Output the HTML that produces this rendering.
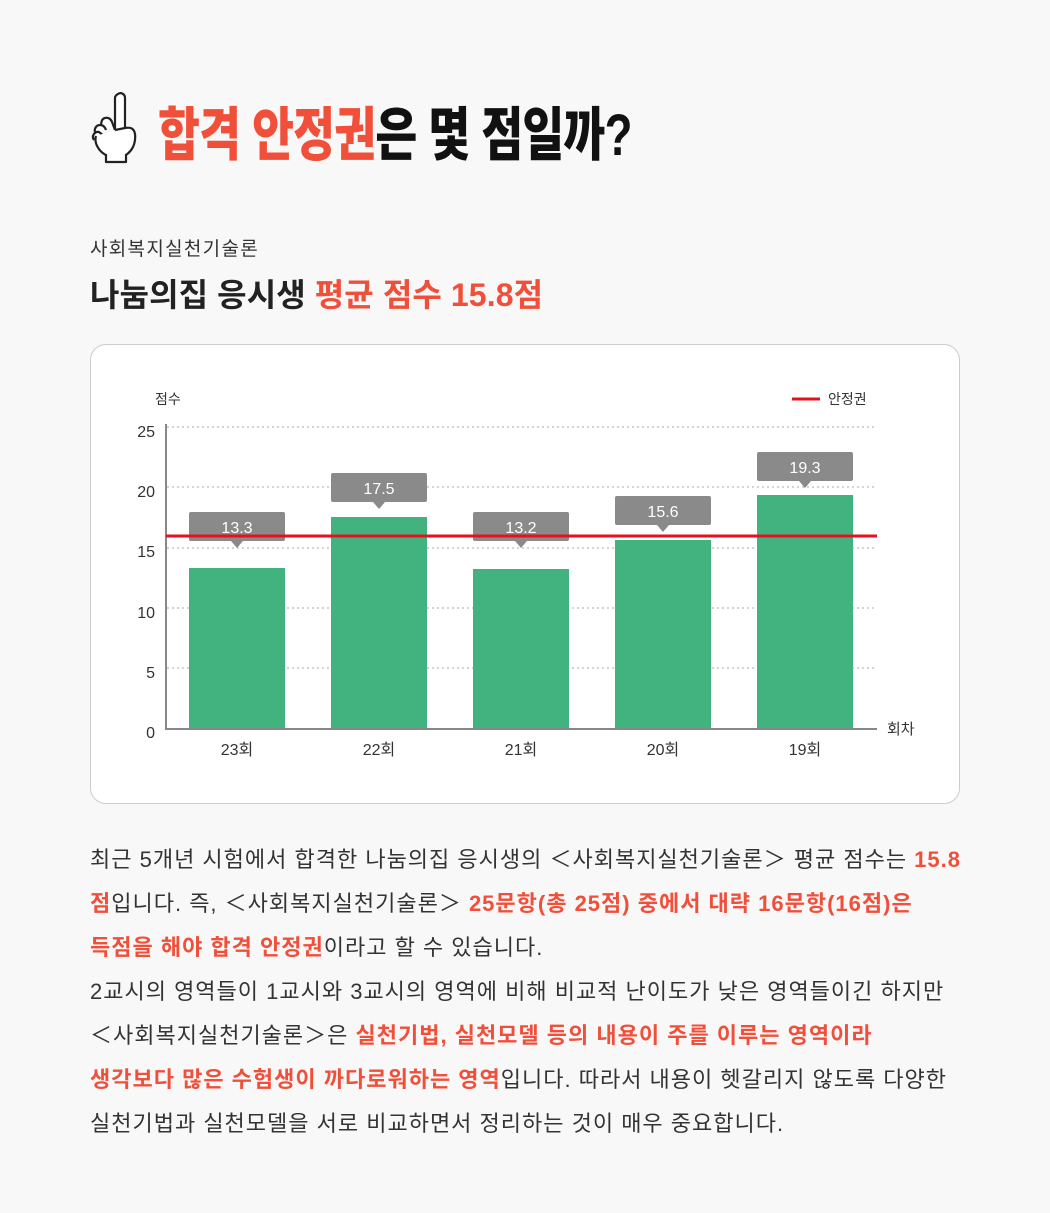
<!DOCTYPE html>
<html><head><meta charset="utf-8"><style>
body{margin:0;background:#f8f8f8;width:1050px;height:1213px;overflow:hidden;font-family:"Liberation Sans","Noto Sans CJK KR",sans-serif;color:#222;position:relative}
.abs{position:absolute;white-space:nowrap}
.r{color:#f04f3a;font-weight:700}
.body{left:90px;top:838px;width:880px;font-size:22px;line-height:44px;color:#333;letter-spacing:1px}
.body p{margin:0;white-space:nowrap}
</style></head><body>
<svg class="abs" style="left:88px;top:90px" width="62" height="78" viewBox="0 0 62 78">
<g fill="#fff" stroke="#222" stroke-width="2.2" stroke-linejoin="round">
<path d="M30 4c3-2 7 0 7 4v32l-10 0V8c0-2 1-3 3-4z"/>
<path d="M15 38c-3-3-2-9 2-10 3-1 6 1 7 4l3 8"/>
<path d="M8 44c-3-4 0-9 4-9 3 0 5 2 6 5"/>
<path d="M6 50c-3-4 1-9 5-8l5 4"/>
<path d="M8 46c-2 6 2 16 12 20h16c8-4 12-12 11-22-1-6-5-7-10-6l-10 2"/>
<path d="M18 64v8h20v-8"/>
</g></svg>
<div class="abs" style="left:158px;top:96px;font-size:58px;font-weight:900;letter-spacing:-1px;line-height:80px;transform:scaleX(0.785);transform-origin:0 0"><span style="color:#f04f3a">합격 안정권</span><span style="color:#111">은 몇 점일까?</span></div>
<div class="abs" style="left:90px;top:234px;font-size:19px;color:#333;letter-spacing:1.3px">사회복지실천기술론</div>
<div class="abs" style="left:90px;top:270px;font-size:32px;font-weight:700;color:#222;letter-spacing:0.1px">나눔의집 응시생 <span class="r">평균 점수 15.8점</span></div>
<div class="abs" style="left:90px;top:344px;width:868px;height:458px;background:#fff;border:1px solid #ccc;border-radius:16px"></div>
<svg class="abs" style="left:0;top:0" width="1050" height="820" font-family="Liberation Sans, Noto Sans CJK KR, sans-serif">
<g stroke="#aaa" stroke-dasharray="2,3" stroke-width="1">
<line x1="167" y1="427" x2="877" y2="427"/><line x1="167" y1="487" x2="877" y2="487"/><line x1="167" y1="548" x2="877" y2="548"/><line x1="167" y1="608" x2="877" y2="608"/><line x1="167" y1="668" x2="877" y2="668"/>
</g>
<g fill="#42b37e">
<rect x="189" y="568" width="96" height="160"/><rect x="331" y="517" width="96" height="211"/><rect x="473" y="569" width="96" height="159"/><rect x="615" y="540" width="96" height="188"/><rect x="757" y="495" width="96" height="233"/>
</g>
<polyline points="166,424 166,729 877,729" fill="none" stroke="#888" stroke-width="2"/>
<g font-size="16" fill="#333" text-anchor="end"><text x="155" y="437">25</text><text x="155" y="497">20</text><text x="155" y="557">15</text><text x="155" y="618">10</text><text x="155" y="678">5</text><text x="155" y="738">0</text></g>
<g font-size="16" fill="#333" text-anchor="middle"><text x="237" y="755">23회</text><text x="379" y="755">22회</text><text x="521" y="755">21회</text><text x="663" y="755">20회</text><text x="805" y="755">19회</text></g>
<text x="155" y="404" font-size="14" fill="#333">점수</text>
<text x="887" y="734" font-size="15" fill="#333">회차</text>
<line x1="792" y1="399" x2="820" y2="399" stroke="#e8101e" stroke-width="3"/>
<text x="828" y="404" font-size="14" fill="#333">안정권</text>
<g fill="#8a8a8a">
<rect x="189" y="512" width="96" height="29" rx="2"/><path d="M231 541h12l-6 7z"/>
<rect x="331" y="473" width="96" height="29" rx="2"/><path d="M373 502h12l-6 7z"/>
<rect x="473" y="512" width="96" height="29" rx="2"/><path d="M515 541h12l-6 7z"/>
<rect x="615" y="496" width="96" height="29" rx="2"/><path d="M657 525h12l-6 7z"/>
<rect x="757" y="452" width="96" height="29" rx="2"/><path d="M799 481h12l-6 7z"/>
</g>
<line x1="166" y1="536" x2="877" y2="536" stroke="#e8101e" stroke-width="3"/>
<g font-size="16" fill="#fff" text-anchor="middle"><text x="237" y="533">13.3</text><text x="379" y="494">17.5</text><text x="521" y="533">13.2</text><text x="663" y="517">15.6</text><text x="805" y="473">19.3</text></g>
</svg>
<div class="abs body">
<p>최근 5개년 시험에서 합격한 나눔의집 응시생의 ＜사회복지실천기술론＞ 평균 점수는 <span class="r">15.8</span></p>
<p><span class="r">점</span>입니다. 즉, ＜사회복지실천기술론＞ <span class="r">25문항(총 25점) 중에서 대략 16문항(16점)은</span></p>
<p><span class="r">득점을 해야 합격 안정권</span>이라고 할 수 있습니다.</p>
<p>2교시의 영역들이 1교시와 3교시의 영역에 비해 비교적 난이도가 낮은 영역들이긴 하지만</p>
<p>＜사회복지실천기술론＞은 <span class="r">실천기법, 실천모델 등의 내용이 주를 이루는 영역이라</span></p>
<p><span class="r">생각보다 많은 수험생이 까다로워하는 영역</span>입니다. 따라서 내용이 헷갈리지 않도록 다양한</p>
<p>실천기법과 실천모델을 서로 비교하면서 정리하는 것이 매우 중요합니다.</p>
</div>
</body></html>
